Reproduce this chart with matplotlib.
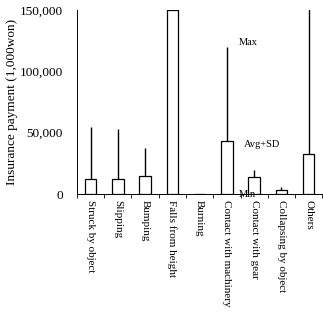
import numpy as np
import matplotlib
matplotlib.use("Agg")
import matplotlib.pyplot as plt
from matplotlib.ticker import FuncFormatter

plt.rcParams['font.family'] = ['Liberation Serif', 'DejaVu Serif']

# categorie e valori (1,000 won)
categories = ["Struck by object", "Slipping", "Bumping", "Falls from height", "Burning",
              "Contact with machinery", "Contact with gear", "Collapsing by object", "Others"]
avg_sd = [12000, 12500, 14500, 150000, 400, 43000, 13500, 3000, 33000]
max_val = [55000, 53000, 37500, 150000, 400, 120000, 20000, 6000, 160000]

fig = plt.figure(figsize=(3.23, 3.12), dpi=100)
ax = fig.add_axes([0.238, 0.378, 0.76, 0.59])

x = np.arange(len(categories))
ax.bar(x, avg_sd, width=0.42, color="white", edgecolor="black", linewidth=0.9, zorder=3)
ax.vlines(x, avg_sd, max_val, color="black", linewidth=1.0, zorder=2)
ax.hlines(max_val[3], x[3] - 0.2, x[3] + 0.2, color="black", linewidth=1.0)

ax.set_xlim(-0.5, len(categories) - 0.5)
ax.set_ylim(0, 150000)
ax.set_yticks([0, 50000, 100000, 150000])
ax.yaxis.set_major_formatter(FuncFormatter(lambda v, p: f"{int(v):,}"))
ax.tick_params(axis="y", length=0, labelsize=9.5, pad=10)

ax.set_xticks(x)
ax.set_xticklabels(categories, rotation=270, fontsize=8, va="top", ha="center")
ax.set_xticks(np.arange(-0.5, len(categories), 1), minor=True)
ax.tick_params(axis="x", which="major", length=0, pad=4)
ax.tick_params(axis="x", which="minor", length=3, direction="out", width=0.6)

ax.spines["top"].set_visible(False)
ax.spines["right"].set_visible(False)
ax.spines["left"].set_linewidth(0.7)
ax.spines["bottom"].set_linewidth(0.7)

ax.set_ylabel("Insurance payment (1,000won)", fontsize=9.5, labelpad=1)

# etichette Max / Avg+SD / Min
ax.text(x[5] + 0.45, max_val[5], "Max", fontsize=7.5, va="bottom", ha="left")
ax.text(x[5] + 0.62, avg_sd[5] - 3000, "Avg+SD", fontsize=7.5, va="center", ha="left")
ax.text(x[5] + 0.42, 0, "Min", fontsize=7.5, va="center", ha="left")

fig.savefig("out.png", dpi=100)
